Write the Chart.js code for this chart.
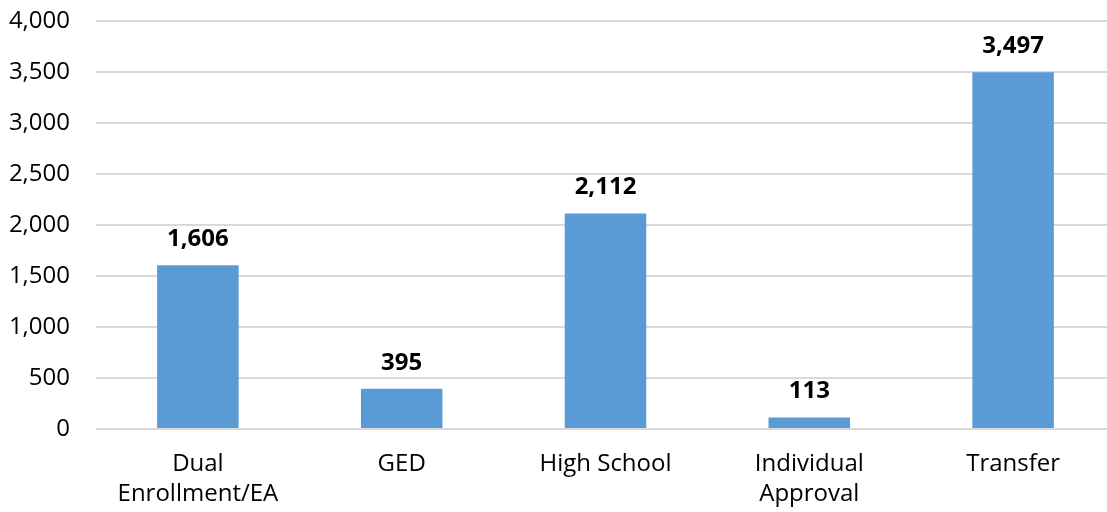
<!DOCTYPE html>
<html>
<head>
<meta charset="utf-8">
<script src="https://cdn.jsdelivr.net/npm/chart.js@4"></script>
<style>
  html, body { margin: 0; padding: 0; background: #fff; overflow: hidden; }
  #wrap { width: 1107px; height: 512px; overflow: hidden; }
  canvas { display: block; }
</style>
</head>
<body>
<div id="wrap"><canvas id="c" width="1115" height="512"></canvas></div>
<script>
const categories = [["Dual", "Enrollment/EA"], "GED", "High School", ["Individual", "Approval"], "Transfer"];
const values = [1606, 395, 2112, 113, 3497];
const yTicks = [0, 500, 1000, 1500, 2000, 2500, 3000, 3500, 4000];

const FONT = "'Open Sans', sans-serif";
const fmt = v => v.toLocaleString('en-US');

const labelPlugin = {
  id: 'barLabels',
  afterDatasetsDraw(chart) {
    const ctx = chart.ctx;
    const meta = chart.getDatasetMeta(0);
    ctx.save();
    ctx.font = "bold 24px " + FONT;
    ctx.fillStyle = '#000';
    ctx.textAlign = 'center';
    ctx.textBaseline = 'middle';
    meta.data.forEach((bar, i) => {
      ctx.fillText(fmt(values[i]), bar.x, bar.y - 26);
    });
    ctx.restore();
  }
};

new Chart(document.getElementById('c'), {
  type: 'bar',
  data: {
    labels: categories,
    datasets: [{
      data: values,
      backgroundColor: '#5B9BD5',
      borderWidth: 0,
      barPercentage: 0.4,
      categoryPercentage: 1.0
    }]
  },
  options: {
    responsive: false,
    animation: false,
    maintainAspectRatio: false,
    layout: { padding: { top: 21, right: 0, bottom: 0, left: 0 } },
    plugins: { legend: { display: false }, tooltip: { enabled: false } },
    scales: {
      x: {
        afterFit(axis) { axis.height = 83; axis.paddingLeft = 0; axis.paddingRight = 0; },
        grid: { display: false, drawTicks: false },
        border: { display: false },
        ticks: { color: '#000', font: { family: FONT, size: 24, lineHeight: 1.25 }, padding: 20, maxRotation: 0, autoSkip: false }
      },
      y: {
        min: 0, max: 4000,
        afterBuildTicks(axis) { axis.ticks = yTicks.map(v => ({ value: v })); },
        afterFit(axis) { axis.width = 96; axis.paddingTop = 0; axis.paddingBottom = 0; },
        grid: { color: '#D9D9D9', lineWidth: 2, drawTicks: false },
        border: { display: false },
        ticks: { color: '#000', font: { family: FONT, size: 24 }, padding: 26, callback: v => fmt(v) }
      }
    }
  },
  plugins: [labelPlugin]
});
</script>
</body>
</html>
